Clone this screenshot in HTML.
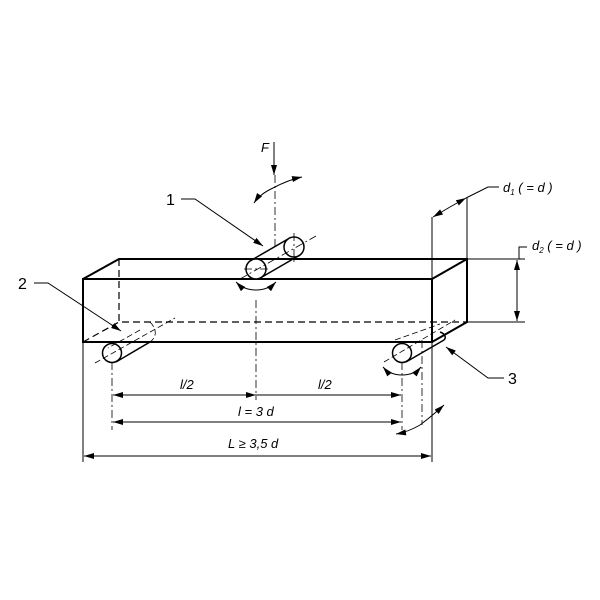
<!DOCTYPE html>
<html><head><style>body{margin:0;background:#fff}svg{display:block}</style></head><body>
<svg width="600" height="600" viewBox="0 0 600 600" xmlns="http://www.w3.org/2000/svg" font-family="Liberation Sans, sans-serif">
<defs>
<marker id="a" viewBox="0 0 10 6" refX="10" refY="3" markerWidth="10" markerHeight="6" orient="auto" markerUnits="userSpaceOnUse"><path d="M0,0L10,3L0,6z" fill="#000"/></marker>
</defs>
<g fill="none" stroke="#000">
<g stroke-width="2">
<rect x="83" y="279" width="349" height="63"/>
<path d="M83,279L119,259H467V322L432,342M432,279L467,259"/>
</g>
<g stroke-width="1.2" stroke-dasharray="7,4">
<path d="M119,259V322H467M83,342L119,322"/>
</g>
<g stroke-width="1.5">
<circle cx="256" cy="269" r="10" fill="#fff"/>
<circle cx="294" cy="247" r="10" fill="#fff"/>
<path d="M250,261L288,239M262,277L300,255"/>
</g>
<g stroke-width="0.8" stroke-dasharray="8,3,2,3">
<path d="M240,279L316,236M256,300V400M275,175V250M294,233V262M244,269H268"/>
</g>
<g stroke-width="1.5">
<circle cx="112" cy="353" r="9.5" fill="#fff"/>
<path d="M116,362L150,342"/>
</g>
<g stroke-width="0.8" stroke-dasharray="6,3">
<path d="M95,363L175,318M150,322C158,330 156,338 150,342M140,330L108,348"/>
</g>
<g stroke-width="0.8" stroke-dasharray="8,3,2,3">
<path d="M112,362V430M402,362V430M422,340V425"/>
</g>
<g stroke-width="1.5">
<circle cx="402" cy="353" r="9.5" fill="#fff"/>
<path d="M406,362L444,340M440,332C446,334 446,338 444,340"/>
</g>
<g stroke-width="0.8" stroke-dasharray="6,3">
<path d="M384,362L455,320M395,340L440,324"/>
</g>
<g stroke-width="1">
<path d="M83,342V462M432,342V462M432,279V217M467,259V197M467,259H525M467,322H525"/>
<path d="M256,395H113" marker-end="url(#a)"/>
<path d="M256,395H401" marker-end="url(#a)"/>
<path d="M113,395H256" marker-end="url(#a)"/>
<path d="M256,422H113" marker-end="url(#a)"/>
<path d="M256,422H401" marker-end="url(#a)"/>
<path d="M256,456H84" marker-end="url(#a)"/>
<path d="M256,456H431" marker-end="url(#a)"/>
<path d="M517,290V260" marker-end="url(#a)"/>
<path d="M517,290V321" marker-end="url(#a)"/>
<path d="M450,207L433,217" marker-end="url(#a)"/>
<path d="M450,207L466,198" marker-end="url(#a)"/>
<path d="M466,198L488,187H499M519,259V247H527"/>
<path d="M274,142V175" marker-end="url(#a)"/>
<path d="M181,199H195L263,246" marker-end="url(#a)"/>
<path d="M34,283H48L121,331" marker-end="url(#a)"/>
<path d="M504,378H488L446,347" marker-end="url(#a)"/>
<path d="M273,188Q260,194 254,203" marker-end="url(#a)"/>
<path d="M273,188Q288,180 302,177" marker-end="url(#a)"/>
<path d="M256,290Q244,290 236,282" marker-end="url(#a)"/>
<path d="M256,290Q268,290 276,282" marker-end="url(#a)"/>
<path d="M402,375Q390,375 383,367" marker-end="url(#a)"/>
<path d="M402,375Q414,375 421,367" marker-end="url(#a)"/>
<path d="M420,425Q408,432 396,434" marker-end="url(#a)"/>
<path d="M420,425Q432,416 444,405" marker-end="url(#a)"/>
</g>
</g>
<g font-size="13" font-style="italic" fill="#000">
<text x="261" y="152">F</text>
<text x="180" y="389">l/2</text>
<text x="318" y="389">l/2</text>
<text x="238" y="416">l = 3 d</text>
<text x="228" y="448">L ≥ 3,5 d</text>
<text x="503" y="192">d<tspan font-size="8" dy="3">1</tspan><tspan dy="-3"> ( = d )</tspan></text>
<text x="532" y="250">d<tspan font-size="8" dy="3">2</tspan><tspan dy="-3"> ( = d )</tspan></text>
</g>
<g font-size="16" fill="#000">
<text x="166" y="205">1</text>
<text x="18" y="289">2</text>
<text x="508" y="384">3</text>
</g>
</svg>
</body></html>
